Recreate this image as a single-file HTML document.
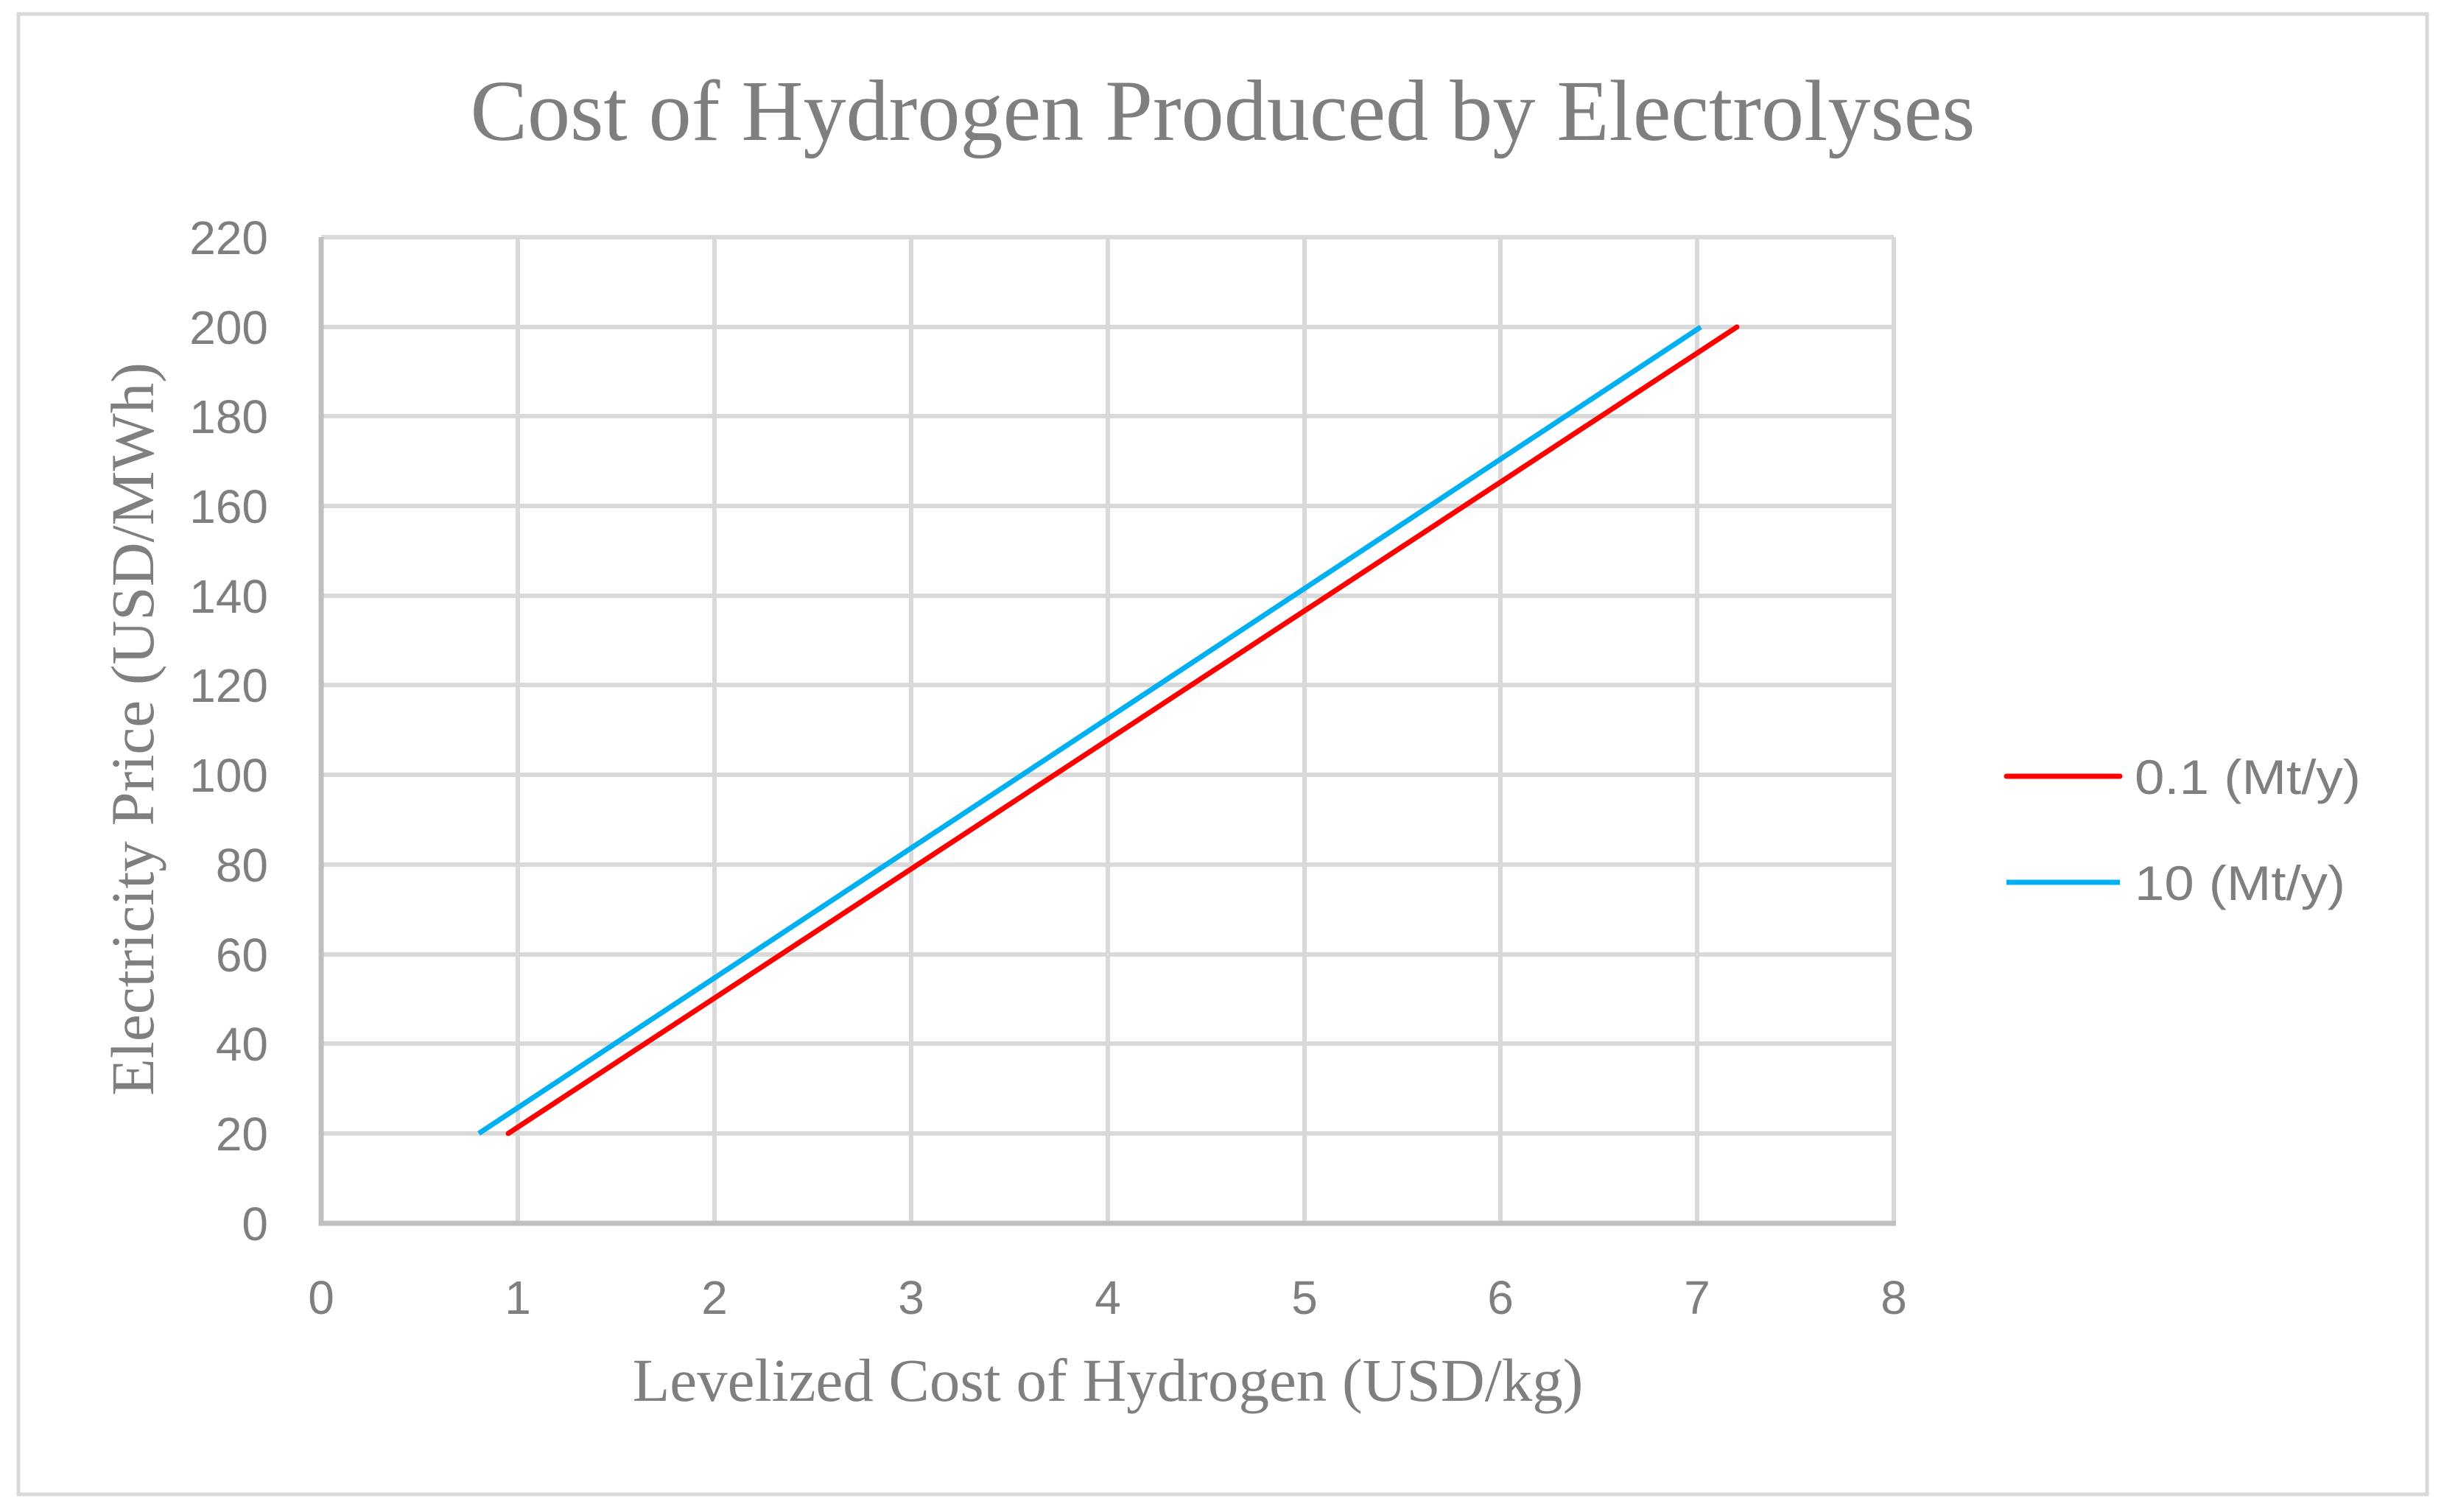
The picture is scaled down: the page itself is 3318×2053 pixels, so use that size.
<!DOCTYPE html>
<html><head><meta charset="utf-8"><style>html,body{margin:0;padding:0;background:#fff}svg{display:block}</style></head>
<body>
<svg width="3318" height="2053" viewBox="0 0 3318 2053" xmlns="http://www.w3.org/2000/svg">
<rect x="0" y="0" width="3318" height="2053" fill="#fff"/>
<rect x="25" y="19" width="3270" height="2010" fill="none" stroke="#d9d9d9" stroke-width="5"/>
<text x="1660" y="190" text-anchor="middle" font-family="Liberation Serif, serif" font-size="118" fill="#7f7f7f" textLength="2043" lengthAdjust="spacingAndGlyphs">Cost of Hydrogen Produced by Electrolyses</text>
<g stroke="#d9d9d9" stroke-width="6">
<line x1="436" y1="322" x2="2571" y2="322"/>
<line x1="436" y1="444" x2="2571" y2="444"/>
<line x1="436" y1="565" x2="2571" y2="565"/>
<line x1="436" y1="687" x2="2571" y2="687"/>
<line x1="436" y1="809" x2="2571" y2="809"/>
<line x1="436" y1="930" x2="2571" y2="930"/>
<line x1="436" y1="1052" x2="2571" y2="1052"/>
<line x1="436" y1="1174" x2="2571" y2="1174"/>
<line x1="436" y1="1296" x2="2571" y2="1296"/>
<line x1="436" y1="1417" x2="2571" y2="1417"/>
<line x1="436" y1="1539" x2="2571" y2="1539"/>
<line x1="703" y1="322" x2="703" y2="1661"/>
<line x1="970" y1="322" x2="970" y2="1661"/>
<line x1="1237" y1="322" x2="1237" y2="1661"/>
<line x1="1504" y1="322" x2="1504" y2="1661"/>
<line x1="1771" y1="322" x2="1771" y2="1661"/>
<line x1="2037" y1="322" x2="2037" y2="1661"/>
<line x1="2304" y1="322" x2="2304" y2="1661"/>
<line x1="2571" y1="322" x2="2571" y2="1661"/>
</g>
<g stroke="#bfbfbf" stroke-width="7">
<line x1="436" y1="322" x2="436" y2="1664"/>
<line x1="433" y1="1661" x2="2574" y2="1661"/>
</g>
<line x1="690" y1="1539" x2="2358" y2="444" stroke="#ff0000" stroke-width="7" stroke-linecap="round"/>
<line x1="650" y1="1539" x2="2309" y2="444" stroke="#00b0f0" stroke-width="7"/>
<g font-family="Liberation Sans, sans-serif" font-size="64" fill="#7f7f7f" text-anchor="end">
<text x="364" y="345">220</text>
<text x="364" y="467">200</text>
<text x="364" y="588">180</text>
<text x="364" y="710">160</text>
<text x="364" y="832">140</text>
<text x="364" y="953">120</text>
<text x="364" y="1075">100</text>
<text x="364" y="1197">80</text>
<text x="364" y="1319">60</text>
<text x="364" y="1440">40</text>
<text x="364" y="1562">20</text>
<text x="364" y="1684">0</text>
</g>
<g font-family="Liberation Sans, sans-serif" font-size="64" fill="#7f7f7f" text-anchor="middle">
<text x="436" y="1784">0</text>
<text x="703" y="1784">1</text>
<text x="970" y="1784">2</text>
<text x="1237" y="1784">3</text>
<text x="1504" y="1784">4</text>
<text x="1771" y="1784">5</text>
<text x="2037" y="1784">6</text>
<text x="2304" y="1784">7</text>
<text x="2571" y="1784">8</text>
</g>
<text x="1504" y="1902" text-anchor="middle" font-family="Liberation Serif, serif" font-size="83" fill="#7f7f7f">Levelized Cost of Hydrogen (USD/kg)</text>
<text transform="translate(208,990) rotate(-90)" text-anchor="middle" font-family="Liberation Serif, serif" font-size="83" fill="#7f7f7f">Electricity Price (USD/MWh)</text>
<line x1="2724" y1="1054" x2="2878" y2="1054" stroke="#ff0000" stroke-width="7" stroke-linecap="round"/>
<line x1="2724" y1="1198" x2="2878" y2="1198" stroke="#00b0f0" stroke-width="7"/>
<g font-family="Liberation Sans, sans-serif" font-size="66" fill="#7f7f7f">
<text x="2898" y="1078" textLength="307" lengthAdjust="spacingAndGlyphs">0.1 (Mt/y)</text>
<text x="2898" y="1222" textLength="286" lengthAdjust="spacingAndGlyphs">10 (Mt/y)</text>
</g>
</svg>
</body></html>
